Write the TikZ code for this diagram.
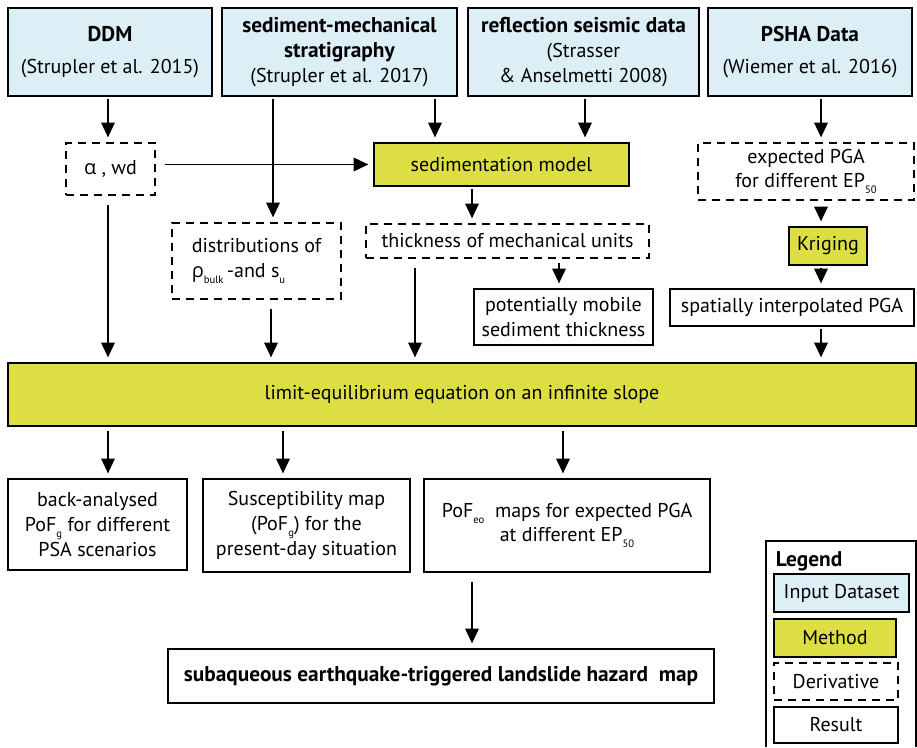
\documentclass[tikz,border=0pt]{standalone}
\usepackage{fontspec}
\setmainfont{PT Sans}
\newfontfamily\greekfont{Open Sans}
\usetikzlibrary{arrows.meta}

\definecolor{inputblue}{RGB}{220,238,246}
\definecolor{methodyellow}{RGB}{221,222,68}
\newcommand{\hd}[1]{{\bfseries\fontsize{16}{18.5}\selectfont #1}}
\newcommand{\lowsub}[1]{\raisebox{-0.6ex}{\fontsize{8}{9}\selectfont #1}}

\begin{document}
\begin{tikzpicture}[x=0.75pt, y=-0.75pt, line width=1.4pt,
    every node/.style={font=\fontsize{15}{18.5}\selectfont, align=center, inner sep=0pt},
    boxsize/.style 2 args={minimum width=#1*0.75pt, minimum height=#2*0.75pt},
    inputbox/.style={draw, fill=inputblue},
    methodbox/.style={draw, fill=methodyellow},
    derivbox/.style={draw, dash pattern=on 6pt off 4.5pt},
    resultbox/.style={draw},
    arr/.style={-{Triangle[length=11pt,width=10pt]}, shorten >=3.5pt, shorten <=1.5pt},
    fromdash/.style={shorten <=6.5pt}]
    \useasboundingbox (0,0) rectangle (917,747);

    % Input datasets
    \node[inputbox, boxsize={204}{88}] (ddm) at (110,52) {\hd{DDM}\\[5pt](Strupler et al. 2015)};
    \node[inputbox, boxsize={235}{88}] (strat) at (339.5,52) {\hd{sediment-mechanical}\\\hd{stratigraphy}\\(Strupler et al. 2017)};
    \node[inputbox, boxsize={231}{88}] (seismic) at (583.5,52) {\hd{reflection seismic data}\\(Strasser\\\& Anselmetti 2008)};
    \node[inputbox, boxsize={204}{88}] (psha) at (810,52) {\hd{PSHA Data}\\[5pt](Wiemer et al. 2016)};

    % Second row
    \node[derivbox, boxsize={89}{52}] (alphawd) at (110.5,169) {{\greekfont α} , wd};
    \node[methodbox, boxsize={255}{43}] (sedmodel) at (501.5,164.5) {sedimentation model};
    \node[derivbox, boxsize={216}{57}] (exppga) at (806,171.5) {expected PGA\\for different EP\lowsub{50}};

    % Third row
    \node[derivbox, boxsize={169}{76}, align=left] (dist) at (256.5,261) {distributions of\\{\greekfont ρ}\lowsub{bulk}\,-and s\lowsub{u}};
    \node[derivbox, boxsize={283}{34}] (thick) at (507.5,241) {thickness of mechanical units};
    \node[methodbox, boxsize={78}{38}] (krig) at (828,246) {Kriging};
    \node[resultbox, boxsize={179}{56}] (mobile) at (563.5,317) {potentially mobile\\sediment thickness};
    \node[resultbox, boxsize={244}{37}] (interp) at (792,307.5) {spatially interpolated PGA};

    % Limit equilibrium
    \node[methodbox, boxsize={908}{63}] (limit) at (462,394.5) {limit-equilibrium equation on an infinite slope};

    % Results
    \node[resultbox, boxsize={179}{91}] (backan) at (97.5,524.5) {back-analysed\\PoF\lowsub{g} for different\\PSA scenarios};
    \node[resultbox, boxsize={207}{93}] (suscept) at (306.5,525.5) {Susceptibility map\\(PoF\lowsub{g}) for the\\present-day situation};
    \node[resultbox, boxsize={286}{93}] (pofeo) at (567,525.5) {PoF\lowsub{eo}\ \ maps for expected PGA\\at different EP\lowsub{50}};
    \node[resultbox, boxsize={546}{54}] (hazard) at (441,676) {\hd{subaqueous earthquake-triggered landslide hazard\ \ map}};

    % Legend
    \draw (766,747) |- (916,541) -- (916,747);
    \node[anchor=base west] (legtitle) at (775,566) {\hd{Legend}};
    \node[inputbox, boxsize={135}{38}] (leginput) at (841.5,593) {Input Dataset};
    \node[methodbox, boxsize={122}{38}] (legmethod) at (835,638) {Method};
    \node[derivbox, boxsize={124}{37}] (legderiv) at (836,681.5) {Derivative};
    \node[resultbox, boxsize={124}{36}] (legresult) at (836,725) {Result};

    % Arrow columns
    \coordinate (xa) at (108,0);
    \coordinate (xb) at (273,0);
    \coordinate (xc) at (435,0);
    \coordinate (xd) at (585,0);
    \coordinate (xe) at (821,0);
    \coordinate (xf) at (472,0);
    \coordinate (xg) at (415,0);
    \coordinate (xh) at (559,0);
    \coordinate (xi) at (283,0);
    \coordinate (xj) at (563,0);
    \coordinate (xk) at (271,0);

    % Inputs to derivatives
    \draw[arr] (ddm.south -| xa) -- (alphawd.north -| xa);
    \draw[arr] (strat.south -| xb) -- (dist.north -| xb);
    \draw[arr] (strat.south -| xc) -- (sedmodel.north -| xc);
    \draw[arr] (seismic.south -| xd) -- (sedmodel.north -| xd);
    \draw[arr] (psha.south -| xe) -- (exppga.north -| xe);
    \draw[arr, fromdash] (alphawd.east |- sedmodel.west) -- (sedmodel.west);

    % Down to the slope model
    \draw[arr, fromdash] (alphawd.south -| xa) -- (limit.north -| xa);
    \draw[arr, fromdash] (dist.south -| xk) -- (limit.north -| xk);
    \draw[arr] (sedmodel.south -| xf) -- (thick.north -| xf);
    \draw[arr, fromdash] (thick.south -| xg) -- (limit.north -| xg);
    \draw[arr, shorten <=3pt] (thick.south -| xh) -- (mobile.north -| xh);
    \draw[arr, fromdash] (exppga.south -| xe) -- (krig.north -| xe);
    \draw[arr] (krig.south -| xe) -- (interp.north -| xe);
    \draw[arr] (interp.south -| xe) -- (limit.north -| xe);

    % Results
    \draw[arr, shorten <=3pt] (limit.south -| xa) -- (backan.north -| xa);
    \draw[arr, shorten <=3pt] (limit.south -| xi) -- (suscept.north -| xi);
    \draw[arr, shorten <=3pt] (limit.south -| xj) -- (pofeo.north -| xj);
    \draw[arr, fromdash] (pofeo.south -| xf) -- (hazard.north -| xf);
\end{tikzpicture}
\end{document}
